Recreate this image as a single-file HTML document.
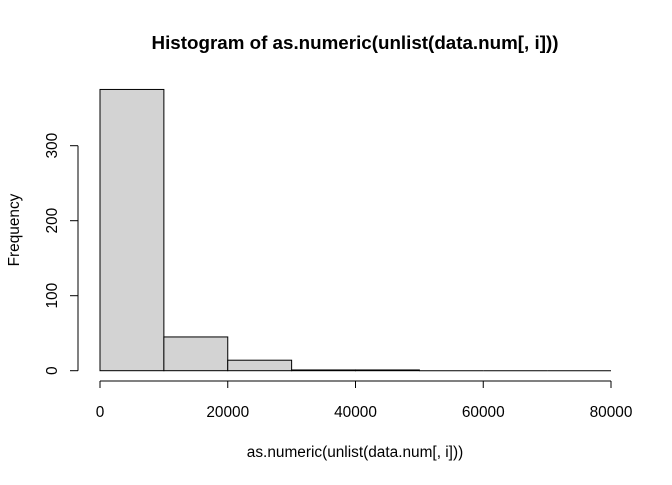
<!DOCTYPE html>
<html><head><meta charset="utf-8"><style>
body{margin:0;background:#fff}
svg text{font-family:"Liberation Sans",Arial,sans-serif;fill:#000}
</style></head><body>
<svg width="672" height="480">
<text x="355" y="49" font-size="18.8" font-weight="bold" text-anchor="middle">Histogram of as.numeric(unlist(data.num[, i]))</text>
<text x="355" y="457" font-size="15.4" text-anchor="middle">as.numeric(unlist(data.num[, i]))</text>
<text transform="translate(19,230) rotate(-90)" font-size="15.4" text-anchor="middle">Frequency</text>
<g id="bars"></g><g id="xaxis"></g><g id="yaxis"></g>
</svg>
<script>
const breaks=[0,10000,20000,30000,40000,50000,60000,70000,80000];
const counts=[375,45,14,1,1,0,0,0];
const xTicks=[0,20000,40000,60000,80000];
const yTicks=[0,100,200,300];
const NS="http://www.w3.org/2000/svg";
const xs=v=>100+v*(611-100)/80000;
const ys=v=>370.7-v*0.75;
function mk(t,a,p){const e=document.createElementNS(NS,t);for(const k in a)e.setAttribute(k,a[k]);p.appendChild(e);return e;}
const bg=document.getElementById('bars');
counts.forEach((c,i)=>{
 const x0=xs(breaks[i]),x1=xs(breaks[i+1]),y=ys(c);
 let r;
 if(c===0){r=mk('line',{x1:x0,x2:x1,y1:y,y2:y,stroke:'#000','stroke-width':1},bg);}
 else{r=mk('rect',{x:x0,y:y,width:x1-x0,height:ys(0)-y,fill:'#d3d3d3',stroke:'#000','stroke-width':1},bg);}
 
 
});
const xa=document.getElementById('xaxis');
const xl=mk('line',{x1:xs(xTicks[0]),x2:xs(xTicks[xTicks.length-1]),y1:381,y2:381,stroke:'#000'},xa);


xTicks.forEach(v=>{
 mk('line',{x1:xs(v),x2:xs(v),y1:381,y2:388,stroke:'#000'},xa);
 const t=mk('text',{x:xs(v),y:417,'font-size':15.4,'text-anchor':'middle'},xa);t.textContent=v;
 
 
});
const ya=document.getElementById('yaxis');
const yl=mk('line',{x1:78,x2:78,y1:ys(yTicks[0]),y2:ys(yTicks[yTicks.length-1]),stroke:'#000'},ya);


yTicks.forEach(v=>{
 mk('line',{x1:70,x2:78,y1:ys(v),y2:ys(v),stroke:'#000'},ya);
 const t=mk('text',{transform:`translate(57,${ys(v)}) rotate(-90)`,'font-size':15.4,'text-anchor':'middle'},ya);t.textContent=v;
 
 
});
</script>
</body></html>
